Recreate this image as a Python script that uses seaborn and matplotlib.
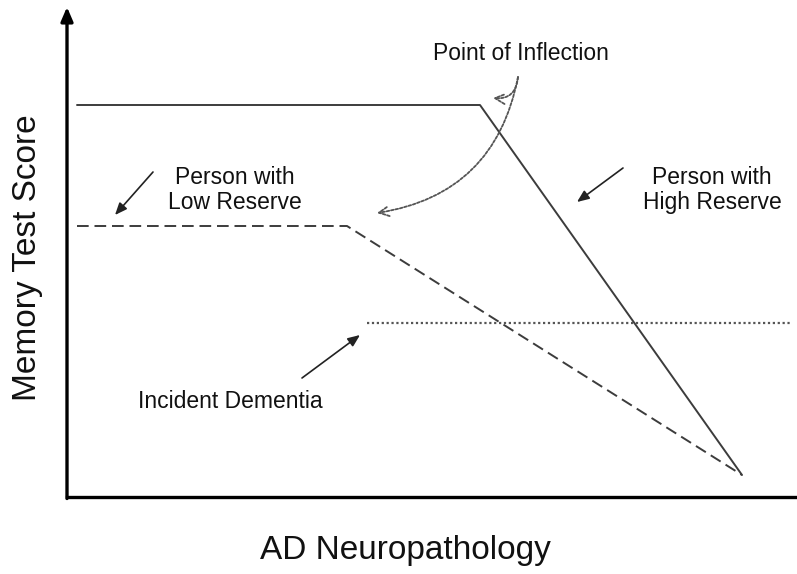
import pandas as pd
import matplotlib.pyplot as plt
import seaborn as sns

# values (x = neuropathology, y = memory score)
high_x = [10, 413, 675]
high_y = [392, 392, 22]
low_x = [10, 280, 675]
low_y = [271, 271, 22]
dementia_x = [300, 723]
dementia_y = [174, 174]

LINE_COLOR = "#3c3c3c"

sns.set_theme(style="white")
plt.rcParams["font.family"] = ["Liberation Sans", "DejaVu Sans"]

fig = plt.figure(figsize=(7.97, 5.74), dpi=100)
ax = fig.add_axes([67 / 797, 77 / 574, 730 / 797, 487 / 574])

high = pd.DataFrame({"x": high_x, "y": high_y})
low = pd.DataFrame({"x": low_x, "y": low_y})
dem = pd.DataFrame({"x": dementia_x, "y": dementia_y})

sns.lineplot(data=high, x="x", y="y", sort=False, color=LINE_COLOR, lw=1.4, ax=ax)
sns.lineplot(data=low, x="x", y="y", sort=False, color=LINE_COLOR, lw=1.4,
             dashes=False, ax=ax, linestyle=(0, (6, 3)))
sns.lineplot(data=dem, x="x", y="y", sort=False, color="#555555", lw=1.6,
             ax=ax, linestyle=(0, (1, 1.2)))

ax.set_xlim(0, 730)
ax.set_ylim(0, 487)
ax.set_xticks([])
ax.set_yticks([])
for side in ["top", "right", "left"]:
    ax.spines[side].set_visible(False)
ax.spines["bottom"].set_linewidth(2.4)
ax.spines["bottom"].set_color("black")

# y axis with arrow head
ax.annotate("", xy=(0, 490), xytext=(0, -1.5), annotation_clip=False,
            arrowprops=dict(arrowstyle="-|>,head_length=0.7,head_width=0.3",
                            lw=2.4, color="black", shrinkA=0, shrinkB=0))

ax.set_xlabel("AD Neuropathology", fontsize=24, color="#111111", va="center")
ax.xaxis.set_label_coords((405 - 67) / 730, (497 - 550) / 487)
ax.set_ylabel("Memory Test Score", fontsize=24, color="#111111", va="center")
ax.yaxis.set_label_coords((28 - 67) / 730, (497 - 258) / 487)

txt = dict(fontsize=16.5, color="#111111", ha="center", va="center", linespacing=1.1)
ax.text(454, 443, "Point of Inflection", **txt)
ax.text(168, 307, "Person with\nLow Reserve", **txt)
ax.text(645, 307, "Person with\nHigh Reserve", **txt)
ax.text(163, 96, "Incident Dementia", **txt)

solid_arrow = dict(arrowstyle="-|>,head_length=0.6,head_width=0.25", lw=1.2,
                   color="#222222", shrinkA=0, shrinkB=0)
ax.annotate("", xy=(48, 282), xytext=(86, 325), arrowprops=solid_arrow)
ax.annotate("", xy=(510, 295), xytext=(556, 329), arrowprops=solid_arrow)
ax.annotate("", xy=(293, 162), xytext=(235, 119), arrowprops=solid_arrow)

curved = dict(arrowstyle="->,head_length=0.6,head_width=0.3", lw=1.3,
              color="#555555", linestyle=(0, (1.5, 1)), shrinkA=0, shrinkB=0)
ax.annotate("", xy=(426, 399), xytext=(451, 420),
            arrowprops=dict(curved, connectionstyle="arc3,rad=-0.5"))
ax.annotate("", xy=(310, 284), xytext=(451, 420),
            arrowprops=dict(curved, connectionstyle="arc3,rad=-0.35"))

fig.savefig("out.png", dpi=100, facecolor="white")
